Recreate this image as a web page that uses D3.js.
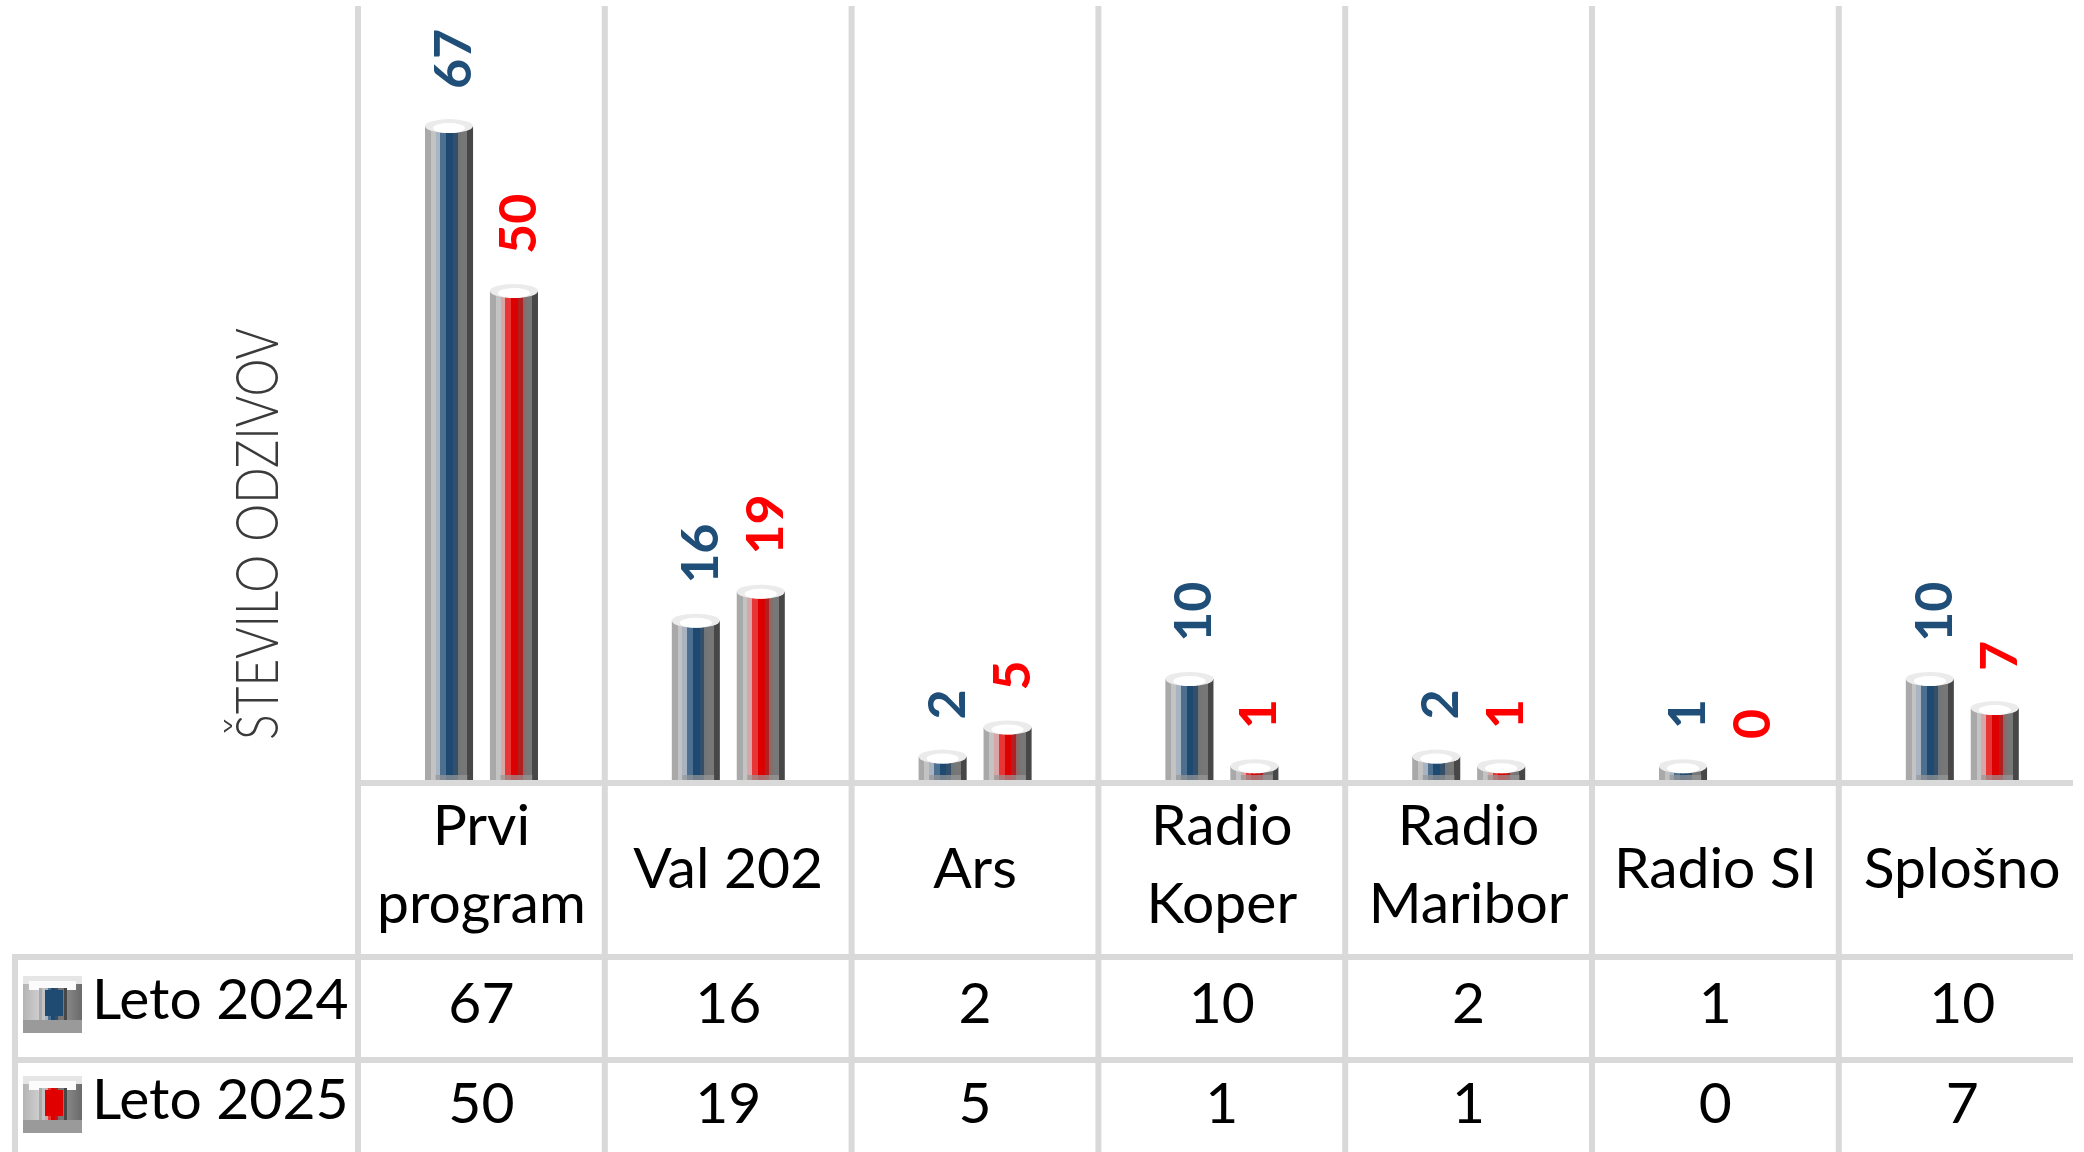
<!DOCTYPE html>
<html>
<head>
<meta charset="utf-8">
<script src="https://cdn.jsdelivr.net/npm/d3@7"></script>
<style>
  body { margin: 0; background: #fff; }
  svg { display: block; }
  text { font-family: Lato, "Open Sans", sans-serif; }
</style>
</head>
<body>
<svg width="2084" height="1152"></svg>
<script>
// data
let categories = ["Prvi program", "Val 202", "Ars", "Radio Koper", "Radio Maribor", "Radio SI", "Splošno"];
let seriesNames = ["Leto 2024", "Leto 2025"];
let values2024 = [67, 16, 2, 10, 2, 1, 10];
let values2025 = [50, 19, 5, 1, 1, 0, 7];
let axisTitle = "ŠTEVILO ODZIVOV";

let textColors = ["#1f4e79", "#ff0000"];
let coreColors = ["#1f4a72", "#e00000"];
let gridColor = "#d9d9d9";

window.onload = function() {
  drawChart();
}

function drawChart() {
  let svg = d3.select('svg');
  let series = [values2024, values2025];
  let baseY = 783;      // category axis line
  let rowTop = 957;     // top of data table
  let rowH = 103;
  let capH = 14;        // height of cylinder top

  let x = d3.scaleBand()
    .domain(categories)
    .range([358, 358 + 7 * 246.8]);
  let xs = d3.scaleBand()
    .domain(seriesNames)
    .range([67, 180])
    .paddingInner(0.26);
  let y = d3.scaleLinear()
    .domain([0, 70])
    .range([baseY, baseY - 70 * 9.7]);

  // gradients for the cylinders
  let defs = svg.append('defs');
  let stopsBlue = [
    [0, '#a9a9a9'], [0.12, '#a9a9a9'], [0.12, '#c3c3c3'], [0.22, '#c3c3c3'],
    [0.22, '#a8b4c2'], [0.32, '#a8b4c2'], [0.32, '#4d7090'], [0.44, '#4d7090'],
    [0.44, '#1e4a72'], [0.58, '#1e4a72'], [0.58, '#344f6a'], [0.68, '#344f6a'],
    [0.68, '#6f7478'], [0.78, '#777777'], [0.88, '#777777'], [0.88, '#474747'], [1, '#474747']
  ];
  let stopsRed = [
    [0, '#a9a9a9'], [0.12, '#a9a9a9'], [0.12, '#c3c3c3'], [0.22, '#c3c3c3'],
    [0.22, '#d8a6a6'], [0.32, '#d8a6a6'], [0.32, '#e83535'], [0.44, '#e83535'],
    [0.44, '#dd0000'], [0.58, '#dd0000'], [0.58, '#b02020'], [0.68, '#b02020'],
    [0.68, '#916464'], [0.78, '#777777'], [0.88, '#777777'], [0.88, '#474747'], [1, '#474747']
  ];
  [stopsBlue, stopsRed].forEach((stops, i) => {
    let g = defs.append('linearGradient')
      .attr('id', 'cyl' + i)
      .attr('x1', 0).attr('x2', 1).attr('y1', 0).attr('y2', 0);
    g.selectAll('stop').data(stops).enter().append('stop')
      .attr('offset', d => d[0])
      .attr('stop-color', d => d[1]);
  });
  let keyGrad = defs.append('linearGradient')
    .attr('id', 'keyGray')
    .attr('x1', 0).attr('x2', 1).attr('y1', 0).attr('y2', 0);
  keyGrad.selectAll('stop')
    .data([[0, '#b4b4b4'], [0.3, '#d0d0d0'], [0.7, '#8c8c8c'], [1, '#6a6a6a']])
    .enter().append('stop')
    .attr('offset', d => d[0])
    .attr('stop-color', d => d[1]);

  // grid lines
  let grid = svg.append('g').attr('stroke', gridColor).attr('stroke-width', 6);
  grid.selectAll('.vline')
    .data(categories)
    .enter().append('line')
    .attr('class', 'vline')
    .attr('x1', d => x(d)).attr('x2', d => x(d))
    .attr('y1', 6).attr('y2', 1152);
  grid.append('line')
    .attr('x1', 358).attr('x2', 2073)
    .attr('y1', baseY).attr('y2', baseY);
  grid.selectAll('.hline')
    .data([rowTop, rowTop + rowH])
    .enter().append('line')
    .attr('class', 'hline')
    .attr('x1', 12).attr('x2', 2073)
    .attr('y1', d => d).attr('y2', d => d);
  grid.append('line')
    .attr('x1', 15).attr('x2', 15)
    .attr('y1', rowTop - 3).attr('y2', 1152);

  // cylinders
  let bars = [];
  categories.forEach((c, ci) => {
    series.forEach((s, si) => {
      bars.push({ cat: c, si: si, name: seriesNames[si], value: s[ci] });
    });
  });

  let bar = svg.selectAll('.bar')
    .data(bars.filter(d => d.value > 0))
    .enter().append('g')
    .attr('class', 'bar')
    .attr('transform', d => `translate(${x(d.cat) + xs(d.name)},0)`);

  let bw = xs.bandwidth();
  bar.append('rect')
    .attr('x', 0)
    .attr('y', d => y(d.value) - capH / 2)
    .attr('width', bw)
    .attr('height', d => baseY - 3 - (y(d.value) - capH / 2))
    .attr('fill', d => 'url(#cyl' + d.si + ')');
  bar.append('rect')
    .attr('x', bw * 0.22)
    .attr('y', baseY - 8)
    .attr('width', bw * 0.66)
    .attr('height', 5)
    .attr('fill', '#999')
    .attr('opacity', 0.7);
  bar.append('ellipse')
    .attr('cx', bw / 2)
    .attr('cy', d => y(d.value) - capH / 2)
    .attr('rx', bw / 2)
    .attr('ry', capH / 2)
    .attr('fill', '#ebebeb');
  bar.append('ellipse')
    .attr('cx', bw / 2)
    .attr('cy', d => y(d.value) - capH / 2 + 2)
    .attr('rx', bw / 2 - 8)
    .attr('ry', capH / 2 - 2)
    .attr('fill', '#ffffff');

  // value labels above the bars (zero gets a label but no bar)
  svg.selectAll('.vlabel')
    .data(bars)
    .enter().append('text')
    .attr('class', 'vlabel')
    .attr('transform', d => `translate(${x(d.cat) + xs(d.name) + bw / 2 + 2},${y(d.value) - capH - 30}) rotate(-90)`)
    .attr('dominant-baseline', 'central')
    .attr('font-size', 52)
    .attr('font-weight', 'bold')
    .attr('fill', d => textColors[d.si])
    .text(d => d.value);

  // axis title
  svg.append('text')
    .attr('transform', 'translate(278,534) rotate(-90)')
    .attr('text-anchor', 'middle')
    .attr('font-size', 60)
    .attr('font-weight', 300)
    .attr('fill', '#3a3a3a')
    .attr('textLength', 412)
    .attr('lengthAdjust', 'spacingAndGlyphs')
    .text(axisTitle);

  // category labels, wrapped when too wide
  let catLabel = svg.selectAll('.cat')
    .data(categories)
    .enter().append('text')
    .attr('class', 'cat')
    .attr('x', d => x(d) + x.bandwidth() / 2)
    .attr('text-anchor', 'middle')
    .attr('font-size', 57)
    .attr('fill', '#000');
  catLabel.each(function(d) {
    let t = d3.select(this);
    t.text(d);
    if (this.getComputedTextLength() > 232) {
      let words = d.split(' ');
      t.text(null);
      t.append('tspan').attr('x', x(d) + x.bandwidth() / 2).attr('y', 845).text(words[0]);
      t.append('tspan').attr('x', x(d) + x.bandwidth() / 2).attr('y', 923).text(words.slice(1).join(' '));
    } else {
      t.attr('y', 888);
    }
  });

  // data table
  series.forEach((s, si) => {
    let base = rowTop + 66 + si * (rowH - 3);
    svg.selectAll('.cell' + si)
      .data(s)
      .enter().append('text')
      .attr('x', (d, i) => x(categories[i]) + x.bandwidth() / 2)
      .attr('y', base)
      .attr('text-anchor', 'middle')
      .attr('font-size', 57)
      .attr('fill', '#000')
      .text(d => d);

    // legend key and name
    let key = svg.append('g')
      .attr('transform', `translate(23,${rowTop + 19 + si * (rowH - 3)})`);
    key.append('rect')
      .attr('width', 59).attr('height', 57)
      .attr('fill', 'url(#keyGray)');
    key.append('rect')
      .attr('width', 59).attr('height', 8)
      .attr('fill', '#e6e6e6');
    key.append('rect')
      .attr('x', 6).attr('y', 5)
      .attr('width', 47).attr('height', 9)
      .attr('fill', '#fbfbfb');
    key.append('rect')
      .attr('y', 44)
      .attr('width', 59).attr('height', 13)
      .attr('fill', '#9a9a9a');
    key.append('rect')
      .attr('x', 16).attr('y', 12)
      .attr('width', 28).attr('height', 32)
      .attr('fill', 'url(#cyl' + si + ')');
    key.append('rect')
      .attr('x', 22).attr('y', 14)
      .attr('width', 18).attr('height', 26)
      .attr('fill', coreColors[si]);
    svg.append('text')
      .attr('x', 92)
      .attr('y', base - 4)
      .attr('font-size', 57)
      .attr('fill', '#000')
      .text(seriesNames[si]);
  });
}
</script>
</body>
</html>
